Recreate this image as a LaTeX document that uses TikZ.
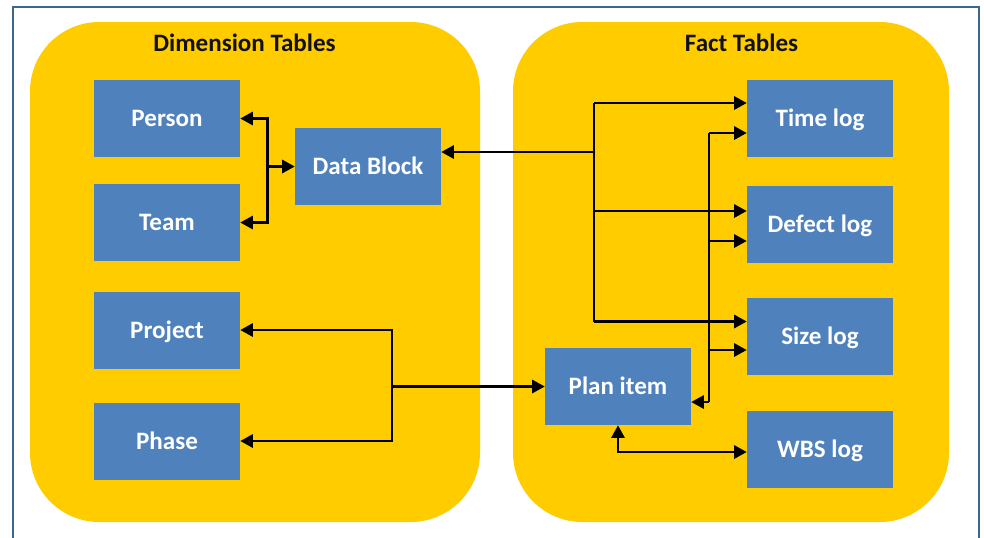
\documentclass[tikz,border=0pt]{standalone}
\usepackage{fontspec}
\setmainfont{Carlito}
\usetikzlibrary{arrows.meta}
\definecolor{panelyellow}{HTML}{FFCC00}
\definecolor{boxblue}{HTML}{4F81BD}
\definecolor{framebl}{HTML}{3E6491}
\definecolor{titleink}{HTML}{111111}
\tikzset{
  % capitals centred on the node, descenders ignored
  capcentred/.style={text height=12.1pt, text depth=0pt},
  panel/.style={fill=panelyellow, draw=none, rounded corners=52pt},
  table/.style={fill=boxblue, draw=none, minimum width=109.5pt, minimum height=57.75pt,
    inner sep=0pt, text=white, capcentred, font=\fontsize{18.8}{22}\selectfont\bfseries},
  paneltitle/.style={text=titleink, capcentred, font=\fontsize{18.8}{22}\selectfont\bfseries, inner sep=0pt},
  link/.style={line width=1.7pt, draw=black},
  arr/.style={link, -{Triangle[length=9.5pt,width=10pt]}},
  arrboth/.style={link, {Triangle[length=9.5pt,width=10pt]}-{Triangle[length=9.5pt,width=10pt]}}
}
\begin{document}
\begin{tikzpicture}[x=0.75pt,y=-0.75pt]
  \useasboundingbox (0,0) rectangle (984,537);
  \clip (0,0) rectangle (984,537);
  \fill[white] (0,0) rectangle (984,537);

  % outer frame (open at the bottom edge of the page)
  \draw[framebl, line width=2.2pt] (13,7) rectangle (979,570);

  % the two groups
  \fill[panel] (30,22) rectangle (480,522);
  \fill[panel] (513,22) rectangle (949,522);
  \node[paneltitle] (dimtitle) at (244.5,43) {Dimension Tables};
  \node[paneltitle] (facttitle) at (741.5,43) {Fact Tables};

  % dimension tables
  \node[table] (person)    at (167,118.5) {Person};
  \node[table] (team)      at (167,222.5) {Team};
  \node[table] (project)   at (167,330)   {Project};
  \node[table] (phase)     at (167,441)   {Phase};
  \node[table] (datablock) at (368,166.5) {Data Block};

  % fact tables
  \node[table] (timelog)   at (820,118.5) {Time log};
  \node[table] (defectlog) at (820,224.5) {Defect log};
  \node[table] (sizelog)   at (820,336)   {Size log};
  \node[table] (wbslog)    at (820,449)   {WBS log};
  \node[table] (planitem)  at (618,386.5) {Plan item};

  % Person / Team -- Data Block
  \coordinate (dbfork) at (267.5,166.5);
  \draw[arr] (dbfork) |- (person.east);
  \draw[arr] (dbfork) |- (team.east);
  \draw[arr] (dbfork) -- (datablock.west);

  % Data Block -- logs
  \coordinate (dbtrunk) at (594,152);
  \coordinate (dbtop) at (594,103);
  \coordinate (dbdef) at (594,211);
  \coordinate (dbsize) at (594,321.5);
  \draw[link] (dbtop) -- (dbsize);
  \draw[arr] (dbtrunk) -- (dbtrunk -| datablock.east);
  \draw[arr] (dbtop) -- (dbtop -| timelog.west);
  \draw[arr] (dbdef) -- (dbdef -| defectlog.west);
  \draw[arr] (dbsize) -- (dbsize -| sizelog.west);

  % Plan item -- logs
  \coordinate (pitop) at (709,133);
  \coordinate (pidef) at (709,241);
  \coordinate (pisize) at (709,350);
  \coordinate (pibot) at (709,402);
  \draw[link] (pitop) -- (pibot);
  \draw[arr] (pitop) -- (pitop -| timelog.west);
  \draw[arr] (pidef) -- (pidef -| defectlog.west);
  \draw[arr] (pisize) -- (pisize -| sizelog.west);
  \draw[arr] (pibot) -- (pibot -| planitem.east);

  % Plan item -- WBS log
  \coordinate (wbsbend) at (618,452);
  \draw[arrboth] (planitem.south) -- (wbsbend) -- (wbsbend -| wbslog.west);

  % Project / Phase -- Plan item
  \coordinate (pjfork) at (392,386.5);
  \draw[arr] (pjfork) |- (project.east);
  \draw[arr] (pjfork) |- (phase.east);
  \draw[arr] (pjfork) -- (planitem.west);
\end{tikzpicture}
\end{document}
